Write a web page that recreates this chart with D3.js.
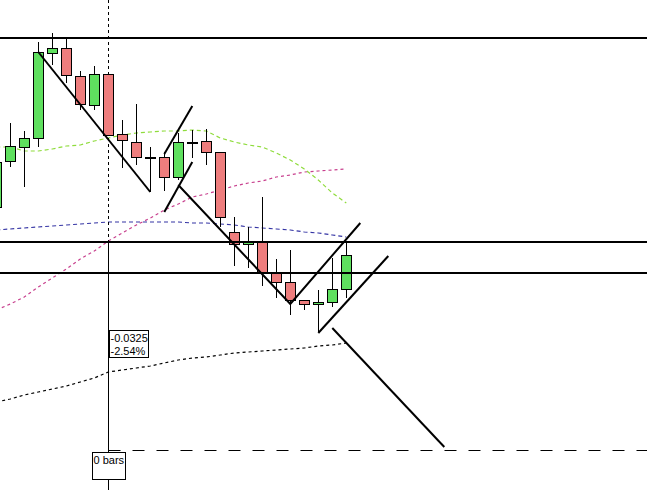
<!DOCTYPE html>
<html><head><meta charset="utf-8">
<script src="https://cdn.jsdelivr.net/npm/d3@7"></script>
<style>html,body{margin:0;padding:0;background:#fff;overflow:hidden}</style>
</head><body>
<script>
// ---- data (prices) ----
const opens  = [1.2793,1.2839,1.2853,1.2862,1.2947,1.2952,1.2924,1.2895,1.2926,1.2866,1.2858,1.2843,1.2843,1.2823,1.2858,1.2859,1.2848,1.2768,1.2756,1.2759,1.2727,1.2718,1.2700,1.2696,1.2698,1.2711];
const highs  = [1.2840,1.2877,1.2869,1.2958,1.2967,1.2961,1.2929,1.2934,1.2926,1.2880,1.2896,1.2853,1.2848,1.2867,1.2870,1.2871,1.2848,1.2783,1.2773,1.2803,1.2741,1.2750,1.2700,1.2710,1.2742,1.2757];
const lows   = [1.2790,1.2833,1.2813,1.2853,1.2935,1.2917,1.2890,1.2890,1.2865,1.2832,1.2835,1.2808,1.2809,1.2820,1.2842,1.2835,1.2773,1.2734,1.2732,1.2714,1.2702,1.2685,1.2690,1.2668,1.2693,1.2702];
const closes = [1.2838,1.2854,1.2862,1.2948,1.2952,1.2925,1.2896,1.2926,1.2865,1.2860,1.2843,1.2843,1.2823,1.2858,1.2858,1.2848,1.2783,1.2756,1.2759,1.2728,1.2718,1.2700,1.2696,1.2698,1.2711,1.2745];

const maGreen   = [1.2853,1.2853,1.2849,1.2849,1.2851,1.2854,1.2855,1.2859,1.2862,1.2865,1.2867,1.2868,1.2869,1.2869,1.2870,1.2869,1.2862,1.2858,1.2855,1.2853,1.2847,1.2840,1.2831,1.2820,1.2807,1.2797];
const maMagenta = [1.2690,1.2696,1.2703,1.2713,1.2722,1.2731,1.2741,1.2749,1.2759,1.2767,1.2775,1.2782,1.2790,1.2796,1.2803,1.2806,1.2810,1.2814,1.2817,1.2819,1.2823,1.2825,1.2828,1.2829,1.2830,1.2831];
const maBlue    = [1.2770,1.2771,1.2772,1.2773,1.2774,1.2775,1.2776,1.2777,1.2778,1.2778,1.2778,1.2778,1.2778,1.2778,1.2777,1.2777,1.2776,1.2775,1.2773,1.2772,1.2771,1.2770,1.2768,1.2767,1.2765,1.2763];
const maBlack   = [1.2598,1.2601,1.2605,1.2608,1.2611,1.2614,1.2618,1.2622,1.2628,1.2630,1.2632,1.2634,1.2637,1.2640,1.2642,1.2643,1.2645,1.2647,1.2648,1.2649,1.2650,1.2651,1.2652,1.2654,1.2655,1.2657];

const levels = [1.2962, 1.2758, 1.2727];
const targetLevel = 1.2550;
const crossIndex = 8;
const trendLines = [
  [[3,1.2948],[11,1.2808]],
  [[12,1.2846],[14,1.2894]],
  [[12,1.2788],[14,1.2838]],
  [[13,1.2815],[21,1.2696],[26,1.2777]],
  [[23,1.2667],[28,1.2744]],
  [[24,1.2672],[32,1.2553]]
];
const measureLabel = ["-0.0325", "-2.54%"];
const barsLabel = "0 bars";

// ---- drawing ----
const W = 647, H = 490;
const svg = d3.select("body").append("svg").attr("width", W).attr("height", H)
  .style("font-family", "'Liberation Sans', Arial, sans-serif");
svg.append("rect").attr("width", W).attr("height", H).attr("fill", "#fff");

const x = d3.scaleLinear().domain([0, 46]).range([-3.7, 640.3]);
const y = d3.scaleLinear().domain([1.3, 1.251]).range([0, 490]);

const candles = d3.range(opens.length).map(i => ({i, o: opens[i], h: highs[i], l: lows[i], c: closes[i]}));

// moving averages
const mas = [
  {data: maBlack, color: "#000000", dash: "3,3"},
  {data: maBlue, color: "#3434a4", dash: "4,3"},
  {data: maMagenta, color: "#c8408e", dash: "3,3"},
  {data: maGreen, color: "#8fdc3c", dash: "4,3"}
];
const line = d3.line().x((d, i) => x(i)).y(d => y(d));
svg.selectAll("path.ma").data(mas).join("path").attr("class", "ma")
  .attr("d", d => line(d.data)).attr("fill", "none")
  .attr("stroke", d => d.color).attr("stroke-width", 1.2).attr("stroke-dasharray", d => d.dash);

// crosshair vertical
const cx = Math.round(x(crossIndex)) + 0.5;
svg.append("line").attr("x1", cx).attr("x2", cx).attr("y1", 0).attr("y2", y(levels[1]))
  .attr("stroke", "#000").attr("stroke-dasharray", "3,3");
svg.append("line").attr("x1", cx).attr("x2", cx).attr("y1", y(levels[1])).attr("y2", H)
  .attr("stroke", "#000");

// candles
const cg = svg.append("g");
cg.selectAll("line.wick").data(candles).join("line").attr("class", "wick")
  .attr("x1", d => Math.round(x(d.i)) + 0.5).attr("x2", d => Math.round(x(d.i)) + 0.5)
  .attr("y1", d => y(d.h)).attr("y2", d => y(d.l)).attr("stroke", "#000");
cg.selectAll("rect.body").data(candles).join("rect").attr("class", "body")
  .attr("x", d => Math.round(x(d.i)) - 4.5).attr("width", 10)
  .attr("y", d => Math.round(y(Math.max(d.o, d.c))) + 0.5)
  .attr("height", d => Math.max(1, Math.round(Math.abs(y(d.o) - y(d.c)))))
  .attr("fill", d => d.c >= d.o ? "#5fe05f" : "#ee7d7d")
  .attr("stroke", "#000").attr("stroke-width", 1);

// horizontal levels
svg.selectAll("line.level").data(levels).join("line").attr("class", "level")
  .attr("x1", 0).attr("x2", W).attr("y1", d => y(d)).attr("y2", d => y(d))
  .attr("stroke", "#000").attr("stroke-width", 2);

// target dashed level
svg.append("line").attr("x1", cx).attr("x2", W).attr("y1", Math.round(y(targetLevel)) + 0.5).attr("y2", Math.round(y(targetLevel)) + 0.5)
  .attr("stroke", "#000").attr("stroke-dasharray", "12,12");

// trend lines
const tl = d3.line().x(d => x(d[0])).y(d => y(d[1]));
svg.selectAll("path.trend").data(trendLines).join("path").attr("class", "trend")
  .attr("d", tl).attr("fill", "none").attr("stroke", "#000").attr("stroke-width", 2);

// measure label
const b1x = cx + 1, b1y = 330.5;
svg.append("rect").attr("x", b1x).attr("y", b1y).attr("width", 39).attr("height", 27)
  .attr("fill", "#fff").attr("stroke", "#000");
svg.selectAll("text.m").data(measureLabel).join("text").attr("class", "m")
  .attr("x", b1x + 1).attr("y", (d, i) => b1y + 11.5 + i * 13)
  .attr("font-size", 11).attr("fill", "#000").text(d => d);

// bars label
const b2x = cx - 16, b2y = 452.5;
svg.append("rect").attr("x", b2x).attr("y", b2y).attr("width", 33).attr("height", 27)
  .attr("fill", "#fff").attr("stroke", "#000");
svg.append("text").attr("x", b2x + 1).attr("y", b2y + 11.5).attr("font-size", 11)
  .attr("fill", "#000").text(barsLabel);
</script>
</body></html>
